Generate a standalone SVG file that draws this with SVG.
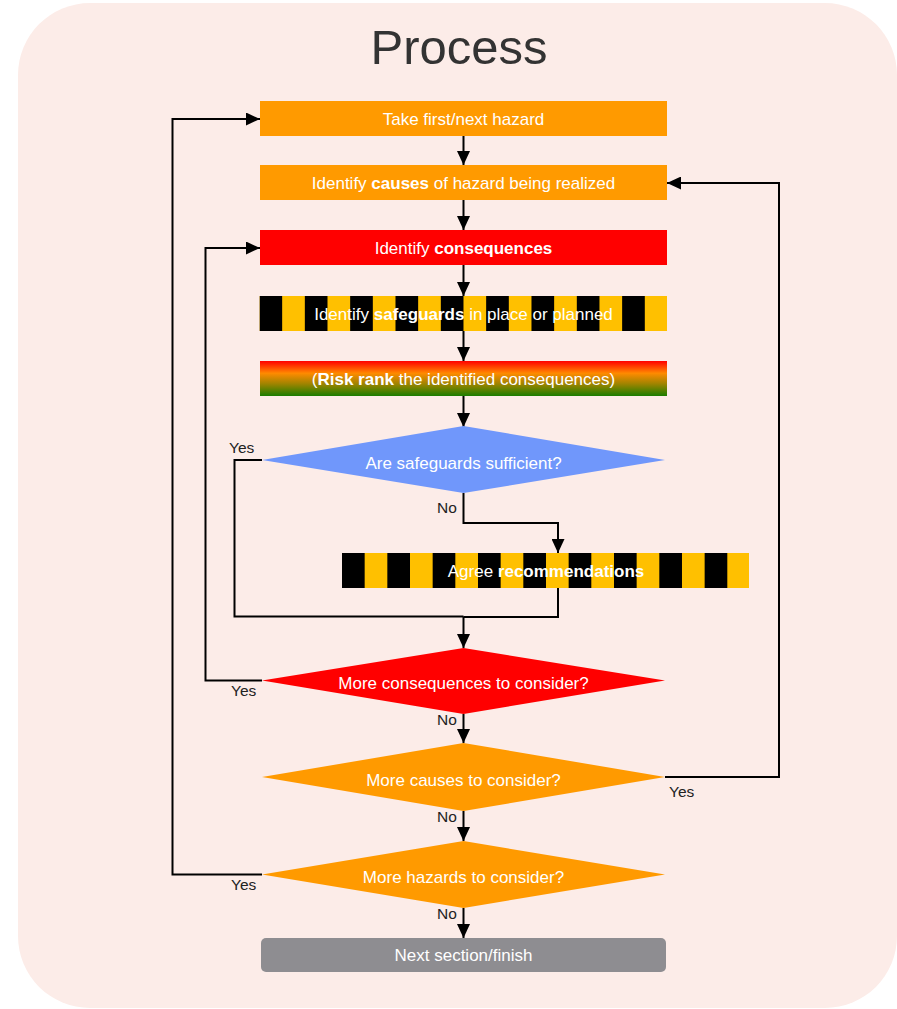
<svg xmlns="http://www.w3.org/2000/svg" width="897" height="1009" viewBox="0 0 897 1009">
  <defs>
    <style>
      .node-text { font-family: "Liberation Sans", Arial, sans-serif; font-size: 17px; fill: #ffffff; text-anchor: middle; }
      .label { font-family: "Liberation Sans", Arial, sans-serif; font-size: 15.5px; fill: #222222; }
      .title { font-family: "Liberation Sans", Arial, sans-serif; font-size: 49px; fill: #333333; text-anchor: middle; }
      .conn { fill: none; stroke: #000000; stroke-width: 2; marker-end: url(#arrow); }
      .line { fill: none; stroke: #000000; stroke-width: 2; }
      .orange { fill: #ff9a00; }
      .red { fill: #ff0000; }
    </style>
    <marker id="arrow" markerUnits="userSpaceOnUse" markerWidth="14" markerHeight="13" refX="14" refY="6.5" orient="auto">
      <path d="M0,0 L14,6.5 L0,13 z" fill="#000000"/>
    </marker>
    <pattern id="stripes-safeguards" patternUnits="userSpaceOnUse" x="259.5" y="0" width="45.33" height="40">
      <rect x="0" y="0" width="22.67" height="40" fill="#000000"/>
      <rect x="22.67" y="0" width="22.66" height="40" fill="#ffc000"/>
    </pattern>
    <pattern id="stripes-agree" patternUnits="userSpaceOnUse" x="342" y="0" width="45.33" height="40">
      <rect x="0" y="0" width="22.67" height="40" fill="#000000"/>
      <rect x="22.67" y="0" width="22.66" height="40" fill="#ffc000"/>
    </pattern>
    <linearGradient id="risk" x1="0" y1="0" x2="0" y2="1">
      <stop offset="0" stop-color="#ff0000"/>
      <stop offset="0.35" stop-color="#ff8a00"/>
      <stop offset="0.65" stop-color="#a08400"/>
      <stop offset="1" stop-color="#1a7d00"/>
    </linearGradient>
  </defs>

  <!-- panel background -->
  <rect x="18" y="3" width="879" height="1005" rx="72" ry="72" fill="#fcece8"/>
  <text class="title" x="459" y="64">Process</text>

  <!-- connectors -->
  <g id="connectors">
    <path class="conn" d="M463.5,136 L463.5,165"/>
    <path class="conn" d="M463.5,200 L463.5,230"/>
    <path class="conn" d="M463.5,265 L463.5,296"/>
    <path class="conn" d="M463.5,331 L463.5,361"/>
    <path class="conn" d="M463.5,396 L463.5,427"/>
    <!-- sufficient: yes -->
    <path class="line" d="M262,460 L234.5,460 L234.5,616.5 L463.5,616.5"/>
    <!-- sufficient: no -->
    <path class="conn" d="M463.5,493 L463.5,523 L558,523 L558,553"/>
    <path class="line" d="M558,588 L558,617 L463.5,617"/>
    <path class="conn" d="M463.5,616.5 L463.5,648"/>
    <!-- more consequences: yes -->
    <path class="conn" d="M262,680.5 L205.5,680.5 L205.5,248 L260,248"/>
    <path class="conn" d="M463.5,714 L463.5,743"/>
    <!-- more causes: yes -->
    <path class="conn" d="M665,777 L779,777 L779,183 L667,183"/>
    <path class="conn" d="M463.5,811 L463.5,841"/>
    <!-- more hazards: yes -->
    <path class="conn" d="M262,874.5 L172.5,874.5 L172.5,119 L260,119"/>
    <path class="conn" d="M463.5,908 L463.5,938"/>

    <text class="label" x="229" y="453">Yes</text>
    <text class="label" x="437" y="513">No</text>
    <text class="label" x="231" y="696">Yes</text>
    <text class="label" x="437" y="725">No</text>
    <text class="label" x="669" y="797">Yes</text>
    <text class="label" x="437" y="822">No</text>
    <text class="label" x="231" y="890">Yes</text>
    <text class="label" x="437" y="919">No</text>
  </g>

  <g id="take-hazard">
    <rect class="orange" x="260" y="101" width="407" height="35"/>
    <text class="node-text" x="463.5" y="124.5">Take first/next hazard</text>
  </g>
  <g id="identify-causes">
    <rect class="orange" x="260" y="165" width="407" height="35"/>
    <text class="node-text" x="463.5" y="189">Identify <tspan font-weight="bold">causes</tspan> of hazard being realized</text>
  </g>
  <g id="identify-consequences">
    <rect class="red" x="260" y="230" width="407" height="35"/>
    <text class="node-text" x="463.5" y="254">Identify <tspan font-weight="bold">consequences</tspan></text>
  </g>
  <g id="identify-safeguards">
    <rect x="259.5" y="296" width="407.5" height="35" fill="url(#stripes-safeguards)"/>
    <text class="node-text" x="463.5" y="320">Identify <tspan font-weight="bold">safeguards</tspan> in place or planned</text>
  </g>
  <g id="risk-rank">
    <rect x="260" y="361" width="407" height="35" fill="url(#risk)"/>
    <text class="node-text" x="463.5" y="385">(<tspan font-weight="bold">Risk rank</tspan> the identified consequences)</text>
  </g>
  <g id="safeguards-sufficient">
    <polygon points="463.5,426 665,460 463.5,493 262,460" fill="#7097fb"/>
    <text class="node-text" x="463.5" y="469">Are safeguards sufficient?</text>
  </g>
  <g id="agree-recommendations">
    <rect x="342" y="553" width="407" height="35" fill="url(#stripes-agree)"/>
    <text class="node-text" x="546" y="577">Agree <tspan font-weight="bold">recommendations</tspan></text>
  </g>
  <g id="more-consequences">
    <polygon points="463.5,648 665,680.5 463.5,714 262,680.5" class="red"/>
    <text class="node-text" x="463.5" y="689">More consequences to consider?</text>
  </g>
  <g id="more-causes">
    <polygon points="463.5,743 665,777 463.5,811 262,777" class="orange"/>
    <text class="node-text" x="463.5" y="786">More causes to consider?</text>
  </g>
  <g id="more-hazards">
    <polygon points="463.5,841 665,874.5 463.5,908 262,874.5" class="orange"/>
    <text class="node-text" x="463.5" y="883">More hazards to consider?</text>
  </g>
  <g id="next-section">
    <rect x="261" y="938" width="405" height="34" rx="5" ry="5" fill="#8e8d91"/>
    <text class="node-text" x="463.5" y="961">Next section/finish</text>
  </g>
</svg>
